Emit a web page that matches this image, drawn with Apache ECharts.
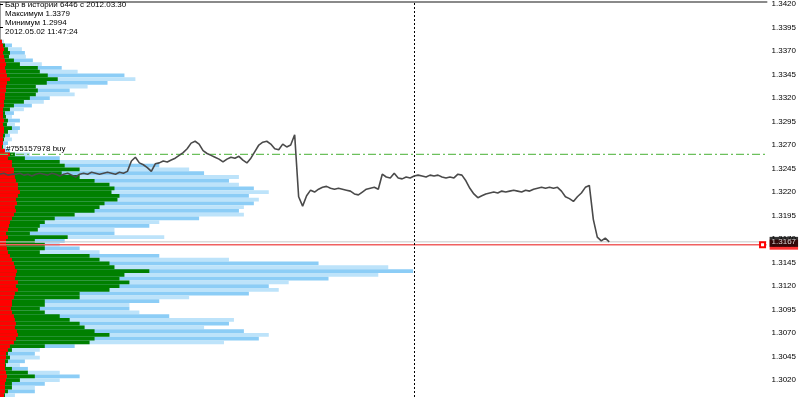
<!DOCTYPE html>
<html><head><meta charset="utf-8">
<script src="https://cdn.jsdelivr.net/npm/echarts@6/dist/echarts.min.js"></script>
<style>html,body{margin:0;padding:0;background:#fff;overflow:hidden}#c{width:799px;height:397px}</style>
</head><body><div id="c"></div>
<script>
// ---- data ----
const infoLines = ['Бар в истории 6446 с 2012.03.30', 'Максимум 1.3379', 'Минимум 1.2994', '2012.05.02 11:47:24'];
const orderLabel = '#755157978 buy';
const orderPrice = 1.3260;
const bidPrice = 1.3167;
const askPrice = 1.3164;
const cursorBar = 104;
const tickValues = [1.3020,1.3045,1.3070,1.3095,1.3120,1.3145,1.3170,1.3195,1.3220,1.3245,1.3270,1.3295,1.3320,1.3345,1.3370,1.3395,1.3420];
// close prices, one per bar
const closes = [
1.3239,1.3240,1.3238,1.3239,1.3239,1.3240,1.3238,1.3239,1.3237,1.3239,
1.3240,1.3239,1.3238,1.3240,1.3239,1.3237,1.3239,1.3240,1.3238,1.3236,
1.3239,1.3240,1.3239,1.3241,1.3240,1.3239,1.3240,1.3241,1.3240,1.3239,
1.3241,1.3240,1.3242,1.3253,1.3257,1.3251,1.3249,1.3246,1.3242,1.3250,
1.3251,1.3253,1.3252,1.3254,1.3256,1.3259,1.3262,1.3266,1.3272,1.3274,
1.3271,1.3264,1.3261,1.3259,1.3257,1.3255,1.3252,1.3255,1.3257,1.3256,
1.3258,1.3254,1.3251,1.3256,1.3263,1.3270,1.3273,1.3274,1.3271,1.3266,
1.3265,1.3271,1.3268,1.3270,1.3281,1.3215,1.3205,1.3216,1.3222,1.3220,
1.3223,1.3225,1.3226,1.3224,1.3223,1.3224,1.3223,1.3222,1.3221,1.3218,
1.3217,1.3220,1.3223,1.3224,1.3225,1.3223,1.3239,1.3236,1.3235,1.3240,
1.3235,1.3234,1.3236,1.3235,1.3237,1.3238,1.3237,1.3236,1.3238,1.3237,
1.3238,1.3236,1.3235,1.3236,1.3235,1.3239,1.3238,1.3232,1.3224,1.3218,
1.3214,1.3216,1.3218,1.3219,1.3220,1.3219,1.3221,1.3220,1.3221,1.3222,
1.3221,1.3220,1.3222,1.3221,1.3223,1.3224,1.3225,1.3224,1.3225,1.3224,
1.3225,1.3221,1.3215,1.3213,1.3210,1.3215,1.3219,1.3225,1.3227,1.3191,
1.3172,1.3168,1.3171,1.3167];
// profile levels (4-pip bins), top to bottom from 1.3420
const levelTop = 1.3420, levelStep = 0.0004, levelCount = 105;
// volume profile lengths per level, top to bottom
const blueVol = [
0,0,0,0,0,0,0,0,0,0,4,12,22,25,26,33,42,62,78,125,
136,108,88,70,75,50,44,32,24,14,12,20,15,20,18,10,12,8,6,10,
30,60,130,160,190,205,240,230,240,255,270,250,260,255,245,240,245,200,160,150,
115,115,165,65,60,80,100,160,230,320,390,415,380,330,290,270,280,250,190,160,
130,130,140,170,235,230,205,245,270,260,225,75,40,35,40,25,20,28,60,80,
60,45,35,35,15];
const greenVol = [
0,0,0,0,0,0,0,0,0,0,2,5,8,10,9,14,20,38,40,48,
58,47,36,38,36,30,24,14,10,5,6,8,7,12,8,5,4,3,3,4,
15,25,60,65,80,62,80,95,110,115,112,120,118,105,100,95,75,55,45,40,
38,30,68,35,45,45,40,90,100,110,115,150,125,120,130,120,110,80,80,45,
45,40,45,60,70,80,85,95,110,95,90,45,12,8,10,8,6,12,28,35,
20,12,12,8,5];
const redVol = [
0,0,0,0,0,0,0,0,0,0,2,3,4,3,4,5,6,5,6,7,
10,7,6,6,5,5,4,4,3,3,3,4,3,4,4,3,3,3,2,5,
10,8,12,12,14,14,15,16,18,18,20,18,16,17,15,16,14,12,10,9,
8,6,8,6,6,7,8,10,12,14,15,17,16,15,18,16,18,15,14,12,
12,11,12,14,15,16,15,17,18,16,14,10,8,6,6,5,5,5,6,7,
6,5,5,5,4];

// ---- build ----
const xMax = 192.5;
const levels = [];
for (let i = 0; i < levelCount; i++) levels.push((levelTop - i * levelStep).toFixed(4));
const lineData = closes.map((v, i) => [i, v]);
const font = 'Liberation Sans';
const chart = echarts.init(document.getElementById('c'));
const barBase = { type: 'bar', xAxisIndex: 1, yAxisIndex: 1, barCategoryGap: '0%', barGap: '-100%', animation: false, silent: true };
function hLine(price, color, width, type, z, extra) {
  return Object.assign({ type: 'line', xAxisIndex: 0, yAxisIndex: 0, silent: true, showSymbol: false, symbol: 'none', z: z,
    data: [[0, price], [xMax, price]], lineStyle: { color: color, width: width, type: type } }, extra || {});
}
chart.setOption({
  animation: false,
  grid: { left: 0, right: 29, top: 0, bottom: 0 },
  xAxis: [
    { type: 'value', min: 0, max: xMax, position: 'top', axisLine: { show: true, lineStyle: { color: '#8a8a8a', width: 2 } }, axisTick: { show: false }, axisLabel: { show: false }, splitLine: { show: false } },
    { type: 'value', min: 0, max: 770, show: false, splitLine: { show: false } }
  ],
  yAxis: [
    { type: 'value', min: 1.3002, max: 1.3422, position: 'right',
      axisLine: { show: true, lineStyle: { color: '#8a8a8a', width: 2 } },
      axisTick: { show: true, length: 3, lineStyle: { color: '#000' }, customValues: tickValues },
      axisLabel: { customValues: tickValues, margin: 5, fontSize: 8, fontFamily: font, color: '#000', formatter: v => v.toFixed(4) },
      splitLine: { show: false } },
    { type: 'category', data: levels, inverse: true, position: 'left',
      axisLine: { show: true, lineStyle: { color: '#a0a0a0', width: 2 } }, axisTick: { show: false }, axisLabel: { show: false } }
  ],
  series: [
    Object.assign({}, barBase, { name: 'blue', data: blueVol, itemStyle: { color: p => (p.dataIndex % 2 ? '#8ccdf6' : '#bde3fa') } }),
    Object.assign({}, barBase, { name: 'green', data: greenVol, itemStyle: { color: '#008000' } }),
    Object.assign({}, barBase, { name: 'red', data: redVol, itemStyle: { color: '#ff0000' } }),
    hLine(orderPrice, '#6cc05c', 1.2, [8, 3, 2, 3], 4, {
      showSymbol: true, symbol: 'circle', symbolSize: 0.1,
      data: [{ value: [0, orderPrice], label: { show: true, formatter: orderLabel, position: [6, -10], color: '#000', fontSize: 8, fontFamily: font } }, [xMax, orderPrice]]
    }),
    hLine(askPrice, '#f06060', 1.5, 'solid', 4),
    hLine(bidPrice, '#c8c8c8', 1, 'solid', 4),
    { type: 'line', xAxisIndex: 0, yAxisIndex: 0, silent: true, showSymbol: true, symbol: 'emptyRect', symbolSize: 5, z: 6,
      data: [[xMax - 1, askPrice]], itemStyle: { color: '#ff0000', borderColor: '#ff0000', borderWidth: 1 }, lineStyle: { width: 0 } },
    { type: 'line', xAxisIndex: 0, yAxisIndex: 0, data: lineData, showSymbol: false, z: 5,
      lineStyle: { color: '#4a4a4a', width: 1.6 },
      markLine: { silent: true, symbol: 'none', animation: false, data: [
        { xAxis: cursorBar, lineStyle: { color: '#000', width: 1, type: [2, 2] }, label: { show: false } }
      ] } },
    { type: 'scatter', xAxisIndex: 0, yAxisIndex: 0, silent: true, symbolSize: 0.1, z: 7,
      data: [
        { value: [xMax, askPrice], label: { show: true, position: 'right', distance: 3, formatter: askPrice.toFixed(4), backgroundColor: '#ff0000', color: '#ff0000', fontSize: 8, fontFamily: font, padding: [1, 2] } },
        { value: [xMax, bidPrice], label: { show: true, position: 'right', distance: 3, formatter: bidPrice.toFixed(4), backgroundColor: '#000', color: '#fff', fontSize: 8, fontFamily: font, padding: [1, 2] } }
      ] }
  ],
  graphic: infoLines.map((t, i) => ({ type: 'text', left: 5, top: 1 + i * 9, z: 100,
    style: { text: t, fill: '#000', font: '8px "' + font + '"' } }))
});
</script></body></html>
